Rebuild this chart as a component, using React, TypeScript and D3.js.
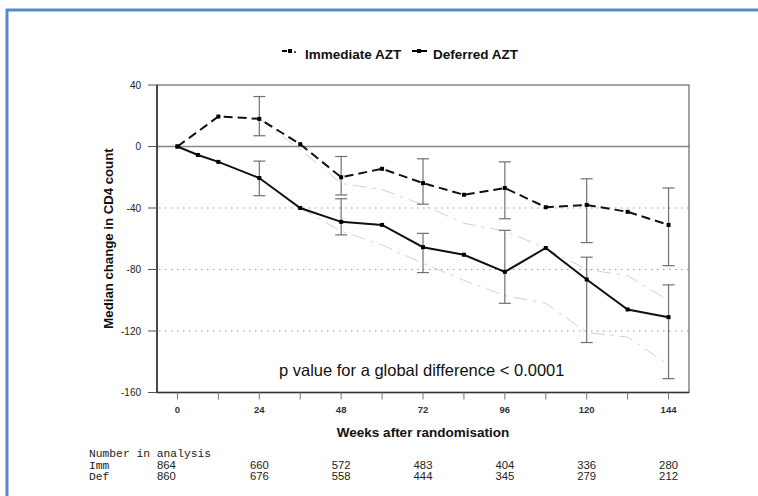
import React from "react";
import * as d3 from "d3";

// ---- data ----
const immWeeks = [0, 12, 24, 36, 48, 60, 72, 84, 96, 108, 120, 132, 144];
const immMedian = [0, 19.5, 18, 1.5, -20, -14.5, -23.8, -31.4, -27, -39.5, -38, -42.5, -51];
const defWeeks = [0, 6, 12, 24, 36, 48, 60, 72, 84, 96, 108, 120, 132, 144];
const defMedian = [0, -5.5, -10, -20.5, -40, -49, -51, -65.5, -70.4, -81.5, -66, -86.5, -106, -111];

const errWeeks = [24, 48, 72, 96, 120, 144];
const immLow = [7, -31.5, -37.5, -47, -62.5, -77.5];
const immHigh = [32.5, -6.5, -8, -10, -21, -27];
const defLow = [-32, -57.5, -82, -102, -127.5, -151];
const defHigh = [-9.5, -34, -56.5, -54.5, -72, -90];

const faintImmWeeks = [24, 36, 48, 60, 72, 84, 96, 108, 120, 132, 144];
const faintImm = [18, -2, -24, -28, -38, -50, -55, -66, -80, -84, -100];
const faintDefWeeks = [36, 48, 60, 72, 84, 96, 108, 120, 132, 144];
const faintDef = [-40, -55, -64, -76, -87, -97, -102, -121, -124, -142];

const yTicks = [40, 0, -40, -80, -120, -160];
const gridValues = [-40, -80, -120];
const xMinorTicks = [0, 12, 24, 36, 48, 60, 72, 84, 96, 108, 120, 132, 144];
const xLabelTicks = [0, 24, 48, 72, 96, 120, 144];

const tableWeeks = [0, 24, 48, 72, 96, 120, 144];
const immN = ["864", "660", "572", "483", "404", "336", "280"];
const defN = ["860", "676", "558", "444", "345", "279", "212"];

const legendLabels = ["Immediate AZT", "Deferred AZT"];
const yTitle = "Median change in CD4 count";
const xTitle = "Weeks after randomisation";
const pText = "p value for a global difference < 0.0001";

export default function App() {
  const W = 758, H = 496;
  const left = 157, right = 689, top = 85, bottom = 392.5;
  const x = d3.scaleLinear().domain([-6, 150]).range([left, right]);
  const y = d3.scaleLinear().domain([-160, 40]).range([bottom, top]);

  const lineGen = d3.line<[number, number]>().x(d => x(d[0])).y(d => y(d[1]));
  const immPts: [number, number][] = immWeeks.map((w, i) => [w, immMedian[i]]);
  const defPts: [number, number][] = defWeeks.map((w, i) => [w, defMedian[i]]);
  const fImm: [number, number][] = faintImmWeeks.map((w, i) => [w, faintImm[i]]);
  const fDef: [number, number][] = faintDefWeeks.map((w, i) => [w, faintDef[i]]);

  const sans = "'Liberation Sans', Arial, Helvetica, sans-serif";
  const mono = "'Liberation Mono', 'DejaVu Sans Mono', monospace";

  const errBar = (w: number, lo: number, hi: number, key: string, color: string) => {
    const cx = x(w);
    return (
      <g key={key} stroke={color} strokeWidth={1.2}>
        <line x1={cx} x2={cx} y1={y(hi)} y2={y(lo)} />
        <line x1={cx - 6} x2={cx + 6} y1={y(hi)} y2={y(hi)} />
        <line x1={cx - 6} x2={cx + 6} y1={y(lo)} y2={y(lo)} />
      </g>
    );
  };

  return (
    <svg width={W} height={H} style={{ position: "absolute", left: 0, top: 0, background: "#fff" }}>
      {/* blue frame */}
      <line x1={6} x2={W} y1={10} y2={10} stroke="#5b88c6" strokeWidth={3} />
      <line x1={7} x2={7} y1={9} y2={H} stroke="#5b88c6" strokeWidth={3} />

      {/* legend */}
      <g>
        <line x1={282} x2={287} y1={51} y2={51} stroke="#000" strokeWidth={2} />
        <rect x={288} y={49} width={4} height={4} fill="#000" />
        <circle cx={295} cy={52} r={0.9} fill="#000" />
        <text x={305} y={59} fontFamily={sans} fontWeight="bold" fontSize={13.5} fill="#111">{legendLabels[0]}</text>
        <line x1={412} x2={427} y1={51} y2={51} stroke="#000" strokeWidth={2} />
        <rect x={417} y={49} width={4} height={4} fill="#000" />
        <text x={433} y={59} fontFamily={sans} fontWeight="bold" fontSize={13.5} fill="#111">{legendLabels[1]}</text>
      </g>

      {/* grid */}
      {gridValues.map(v => (
        <line key={"g" + v} x1={left + 2} x2={right} y1={y(v)} y2={y(v)} stroke="#999" strokeWidth={1} strokeDasharray="1.5,4.5" />
      ))}
      <line x1={left} x2={right} y1={y(0)} y2={y(0)} stroke="#888" strokeWidth={1.5} />

      {/* frame */}
      <rect x={left} y={top} width={right - left} height={bottom - top} fill="none" stroke="#666" strokeWidth={1.2} />
      <line x1={left} x2={left} y1={top} y2={bottom} stroke="#222" strokeWidth={1.4} />
      <line x1={left} x2={right} y1={bottom} y2={bottom} stroke="#333" strokeWidth={1.4} />

      {/* y ticks */}
      {yTicks.map(v => (
        <g key={"yt" + v}>
          <line x1={left - 9} x2={left} y1={y(v)} y2={y(v)} stroke="#555" strokeWidth={1} />
          <text x={141} y={y(v)} dy="0.35em" textAnchor="end" fontFamily={sans} fontSize={10} fill="#222">{v}</text>
        </g>
      ))}
      {/* x ticks */}
      {xMinorTicks.map(w => (
        <line key={"xt" + w} x1={x(w)} x2={x(w)} y1={bottom} y2={bottom + 7} stroke="#777" strokeWidth={1} />
      ))}
      {xLabelTicks.map(w => (
        <text key={"xl" + w} x={x(w)} y={413} textAnchor="middle" fontFamily={sans} fontSize={9.5} fontWeight="bold" fill="#333">{w}</text>
      ))}

      {/* axis titles */}
      <text transform={`translate(113,238.5) rotate(-90)`} textAnchor="middle" fontFamily={sans} fontWeight="bold" fontSize={13.2} fill="#111">{yTitle}</text>
      <text x={(left + right) / 2} y={437} textAnchor="middle" fontFamily={sans} fontWeight="bold" fontSize={13.5} fill="#111">{xTitle}</text>

      {/* faint traces */}
      <path d={lineGen(fImm) || ""} fill="none" stroke="#d2d2d2" strokeWidth={1} strokeDasharray="14,6,3,6" />
      <path d={lineGen(fDef) || ""} fill="none" stroke="#d2d2d2" strokeWidth={1} strokeDasharray="14,6,3,6" />

      {/* error bars */}
      {errWeeks.map((w, i) => errBar(w, immLow[i], immHigh[i], "ei" + w, "#707070"))}
      {errWeeks.map((w, i) => errBar(w, defLow[i], defHigh[i], "ed" + w, "#707070"))}

      {/* lines */}
      <path d={lineGen(immPts) || ""} fill="none" stroke="#111" strokeWidth={2} strokeDasharray="9,5" />
      <path d={lineGen(defPts) || ""} fill="none" stroke="#111" strokeWidth={2} />
      {immPts.map((p, i) => (
        <rect key={"mi" + i} x={x(p[0]) - 2} y={y(p[1]) - 2} width={4} height={4} fill="#000" />
      ))}
      {defPts.map((p, i) => (
        <rect key={"md" + i} x={x(p[0]) - 2} y={y(p[1]) - 2} width={4} height={4} fill="#000" />
      ))}

      {/* p value */}
      <text x={279} y={376} fontFamily={sans} fontSize={16.5} fill="#111">{pText}</text>

      {/* table */}
      <text x={89} y={457} fontFamily={mono} fontSize={11.3} fill="#222">Number in analysis</text>
      <text x={89} y={469} fontFamily={mono} fontSize={11.3} fill="#222">Imm</text>
      <text x={89} y={480} fontFamily={mono} fontSize={11.3} fill="#222">Def</text>
      {tableWeeks.map((w, i) => (
        <g key={"tb" + w}>
          <text x={x(w) + (w === 0 ? -11 : 0)} y={469} textAnchor="middle" fontFamily={sans} fontSize={11.3} fill="#222">{immN[i]}</text>
          <text x={x(w) + (w === 0 ? -11 : 0)} y={480} textAnchor="middle" fontFamily={sans} fontSize={11.3} fill="#222">{defN[i]}</text>
        </g>
      ))}
    </svg>
  );
}
